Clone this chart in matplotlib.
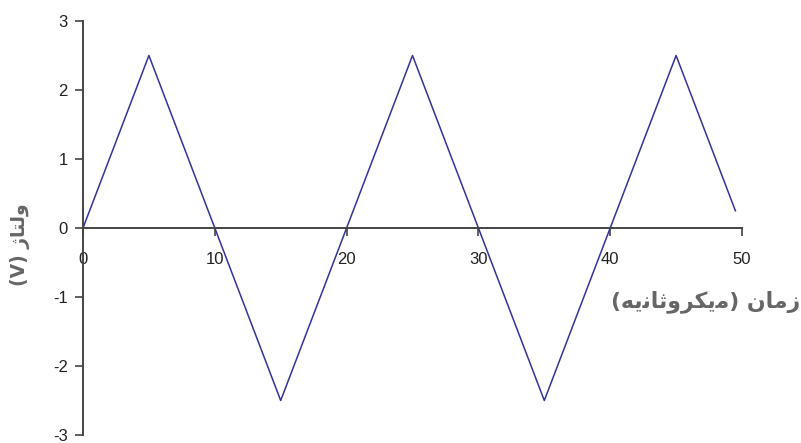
import matplotlib.pyplot as plt

# triangle wave vertices (time in microseconds, voltage in V)
time_us = [0, 5, 15, 25, 35, 45, 49.5]
volts = [0, 2.5, -2.5, 2.5, -2.5, 2.5, 0.25]

x_ticks = [0, 10, 20, 30, 40, 50]
y_ticks = [-3, -2, -1, 0, 1, 2, 3]

# Persian labels written in presentation forms, visual order
y_label = "(V) \uFB8A\uFE8E\uFE98\uFEDF\uFEED"
x_label = "(\uFEEA\uFBFE\uFEE7\uFE8E\uFE9B\uFEED\uFEAE\uFB91\uFBFE\uFEE3) \uFEE5\uFE8E\uFEE3\uFEAF"

plt.rcParams['font.family'] = ['Liberation Sans', 'DejaVu Sans']
plt.rcParams['axes.unicode_minus'] = False

fig = plt.figure(figsize=(8.01, 4.43), dpi=100)
ax = fig.add_axes([83 / 801, 1 - 435 / 443, (742 - 83) / 801, (435 - 21) / 443])

ax.plot(time_us, volts, color='#333399', lw=1.1)

ax.set_xlim(0, 50)
ax.set_ylim(-3, 3)
ax.set_xticks(x_ticks)
ax.set_yticks(y_ticks)

axis_col = '#444444'
for side in ['top', 'right']:
    ax.spines[side].set_visible(False)
ax.spines['bottom'].set_position(('data', 0))
ax.spines['left'].set_color(axis_col)
ax.spines['bottom'].set_color(axis_col)
ax.spines['left'].set_linewidth(1.4)
ax.spines['bottom'].set_linewidth(1.4)

ax.tick_params(axis='y', direction='out', length=5.5, width=1.2, color=axis_col,
               pad=5.5, labelsize=12, labelcolor='#222222')
ax.tick_params(axis='x', direction='out', length=5.5, width=1.2, color=axis_col,
               pad=12, labelsize=12, labelcolor='#222222')

fig.text(20 / 801, 1 - 245 / 443, y_label, rotation=90, ha='center', va='center',
         fontsize=13.5, fontweight='bold', color='#666666', family=['DejaVu Sans'])
fig.text(800 / 801, 1 - 302 / 443, x_label, ha='right', va='center',
         fontsize=15.8, fontweight='bold', color='#666666', family=['DejaVu Sans'])

fig.savefig('out.png', dpi=100)
